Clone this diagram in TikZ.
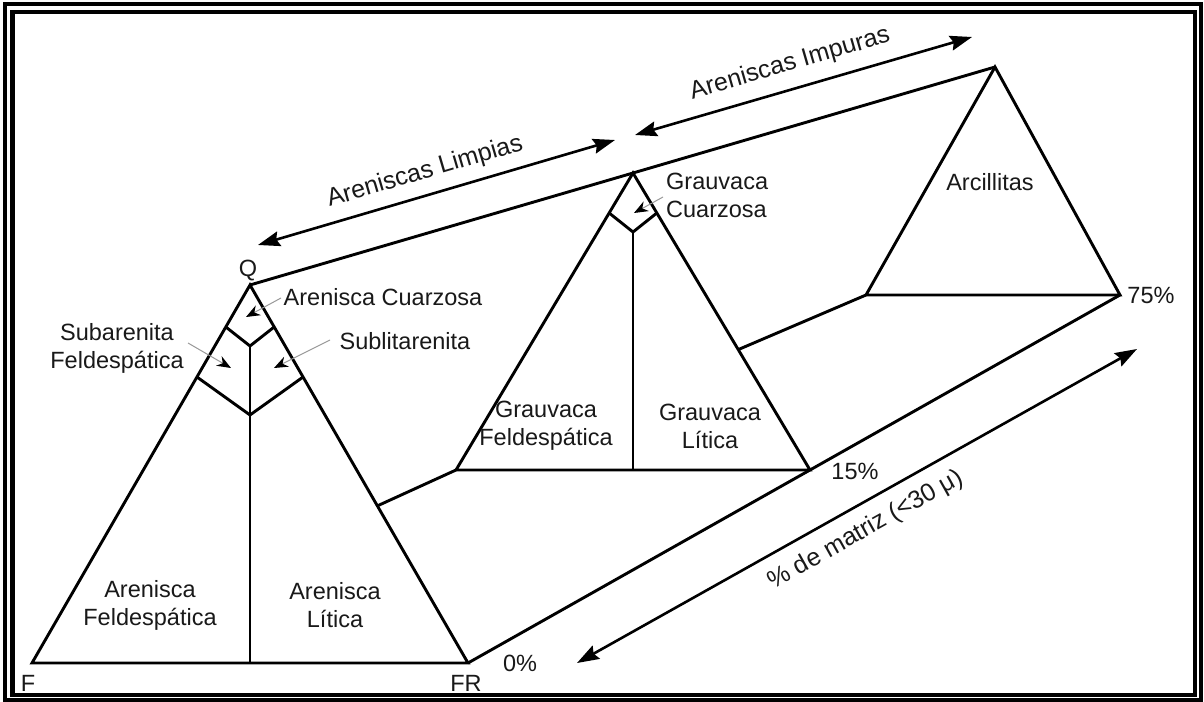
\documentclass[tikz,border=0pt]{standalone}
\usepackage{fontspec}
\setmainfont{Liberation Sans}
\usetikzlibrary{arrows.meta,calc}
\begin{document}
\begin{tikzpicture}[x=1bp,y=-1bp,
  ln/.style={line width=2.9bp, line join=miter},
  txt/.style={font=\fontsize{23.5bp}{28bp}\selectfont, text=black!90, inner sep=0pt, align=center},
  bigtxt/.style={font=\fontsize{25bp}{30bp}\selectfont, text=black!90, inner sep=0pt},
  spanarrow/.style={line width=2.6bp, {Stealth[length=22bp,width=15bp,inset=3bp]}-{Stealth[length=22bp,width=15bp,inset=3bp]}},
  pointer/.style={draw=black!40, line width=1bp, -{Stealth[length=14bp,width=11bp,color=black]}},
]
\useasboundingbox (0,0) rectangle (1204,702);
\fill[white] (0,0) rectangle (1204,702);

% double frame
\draw[line width=4bp] (5.3,4) rectangle (1200.5,700.3);
\draw[line width=4.5bp] (12.5,11.8) rectangle (1195,695);

% --- clean sandstones: Q-F-FR triangle ---
\coordinate (Q) at (250,285);
\coordinate (F) at (32,663);
\coordinate (FR) at (468,663);
\coordinate (J1) at (250,415);
\coordinate (J2) at (250,346);
\coordinate (B1) at (250,663);
\coordinate (L1) at ($(Q)!0.2434!(F)$);
\coordinate (R1) at ($(Q)!0.2434!(FR)$);
\coordinate (L2) at ($(Q)!0.111!(F)$);
\coordinate (R2) at ($(Q)!0.111!(FR)$);
\draw[ln] (Q) -- (F) -- (FR) -- cycle;
\draw[ln] (L1) -- (J1) -- (R1);
\draw[ln] (L2) -- (J2) -- (R2);
\draw[ln] (J2) -- (B1);

% --- greywackes (15 %) ---
\coordinate (A2) at (633,173);
\coordinate (G2L) at (456,470);
\coordinate (G2R) at (810,470);
\coordinate (D2) at (633,232);
\coordinate (M2) at (633,470);
\coordinate (DL) at ($(A2)!0.1347!(G2L)$);
\coordinate (DR) at ($(A2)!0.1347!(G2R)$);
\draw[ln] (A2) -- (G2L) -- (G2R) -- cycle;
\draw[ln] (DL) -- (D2) -- (DR);
\draw[ln] (D2) -- (M2);

% --- mudstones (75 %) ---
\coordinate (A3) at (995,67);
\coordinate (H3L) at (866,295);
\coordinate (H3R) at (1120,295);
\draw[ln] (A3) -- (H3L) -- (H3R) -- cycle;

% --- perspective edges of the prism ---
\draw[ln] (Q) -- (A2) -- (A3);
\draw[ln] (FR) -- (G2R) -- (H3R);
\coordinate (X1) at (intersection of F--G2L and Q--FR);
\coordinate (X2) at (intersection of G2L--H3L and A2--G2R);
\draw[ln] (X1) -- (G2L);
\draw[ln] (X2) -- (H3L);

% --- range arrows ---
\coordinate (LimA) at (258,245);
\coordinate (LimB) at (615,140);
\coordinate (ImpA) at (635,135);
\coordinate (ImpB) at (972,37);
\coordinate (MatA) at (577,663);
\coordinate (MatB) at (1137,349);
\draw[spanarrow] (LimA) -- (LimB);
\draw[spanarrow] (ImpA) -- (ImpB);
\draw[spanarrow] (MatA) -- (MatB);

\node[bigtxt, rotate=16.4] (limpias) at (425,172) {Areniscas Limpias};
\node[bigtxt, rotate=16.2] (impuras) at (790,64) {Areniscas Impuras};
\node[bigtxt, rotate=29.3] (matriz) at (866,530) {\% de matriz (<30 μ)};

% --- vertex and percentage labels ---
\node[txt] (lQ) at (248,271) {Q};
\node[txt] (lF) at (28,683) {F};
\node[txt] (lFR) at (466,683) {FR};
\node[txt] (p0) at (520,663) {0\%};
\node[txt] (p15) at (855,471) {15\%};
\node[txt] (p75) at (1151,295) {75\%};

% --- field names ---
\node[txt] (cuarz) at (383,297) {Arenisca Cuarzosa};
\node[txt] (sublit) at (405,341) {Sublitarenita};
\node[txt] (subfel) at (117,348) {Subarenita\\Feldespática};
\node[txt] (arfel) at (150,605) {Arenisca\\Feldespática};
\node[txt] (arlit) at (335,605) {Arenisca\\Lítica};
\node[txt] (grfel) at (546,426) {Grauvaca\\Feldespática};
\node[txt] (grlit) at (710,426) {Grauvaca\\Lítica};
\node[txt, anchor=west, align=left] (grcua) at (666,195) {Grauvaca\\Cuarzosa};
\node[txt] (arcil) at (990,182) {Arcillitas};

% --- leader arrows into the small fields ---
\coordinate (pc0) at (281,298);  \coordinate (pc1) at (246,317);
\coordinate (ps0) at (188,343);  \coordinate (ps1) at (231,368);
\coordinate (pl0) at (330,340);  \coordinate (pl1) at (274,368);
\coordinate (pg0) at (663,197);  \coordinate (pg1) at (634,213);
\draw[pointer] (pc0) -- (pc1);
\draw[pointer] (ps0) -- (ps1);
\draw[pointer] (pl0) -- (pl1);
\draw[pointer] (pg0) -- (pg1);
\end{tikzpicture}
\end{document}
